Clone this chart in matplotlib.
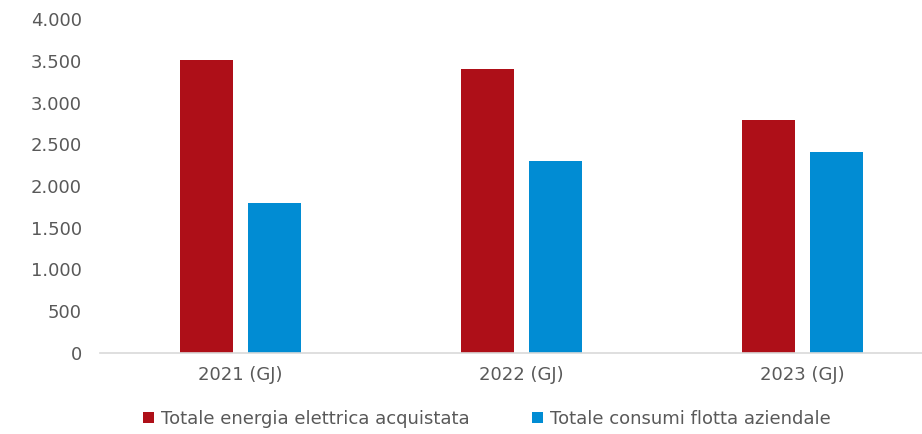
import numpy as np
import matplotlib.pyplot as plt
from matplotlib.ticker import FuncFormatter

# values (GJ)
years = ["2021 (GJ)", "2022 (GJ)", "2023 (GJ)"]
energia_elettrica = [3510, 3405, 2790]
flotta_aziendale = [1800, 2300, 2410]
series_names = ["Totale energia elettrica acquistata", "Totale consumi flotta aziendale"]

RED = "#AE0F18"
BLUE = "#018CD3"
TXT = "#595959"
FS = 13

plt.rcParams['font.family'] = ['DejaVu Sans']

W, H = 922, 434
fig = plt.figure(figsize=(W / 100, H / 100), dpi=100)
ax = fig.add_axes([100 / W, (H - 352.5) / H, 1 - 100 / W, (352.5 - 19.5) / H])

x = np.arange(len(years))
bw = 0.192
off = 0.121
ax.bar(x - off, energia_elettrica, bw, color=RED, label=series_names[0])
ax.bar(x + off, flotta_aziendale, bw, color=BLUE, label=series_names[1])

ax.set_xlim(-0.5, -0.5 + 822 / 281)
ax.set_ylim(0, 4000)
ax.set_yticks(range(0, 4001, 500))
ax.yaxis.set_major_formatter(FuncFormatter(lambda v, p: f"{int(v):,}".replace(",", ".")))
ax.set_xticks(x)
ax.set_xticklabels(years)

for s in ["top", "right", "left"]:
    ax.spines[s].set_visible(False)
ax.spines["bottom"].set_color("#D9D9D9")
ax.spines["bottom"].set_linewidth(1.2)
ax.tick_params(axis="y", length=0, pad=13, labelsize=FS, labelcolor=TXT)
ax.tick_params(axis="x", length=0, pad=10, labelsize=FS, labelcolor=TXT)

leg = fig.legend(loc="center left", bbox_to_anchor=(134 / W, (H - 419) / H), ncol=2,
                 frameon=False, fontsize=FS, borderpad=0, handlelength=0.58, handleheight=0.58,
                 handletextpad=0.39, columnspacing=3.5)
for t in leg.get_texts():
    t.set_color(TXT)

fig.savefig("out.png", dpi=100)
